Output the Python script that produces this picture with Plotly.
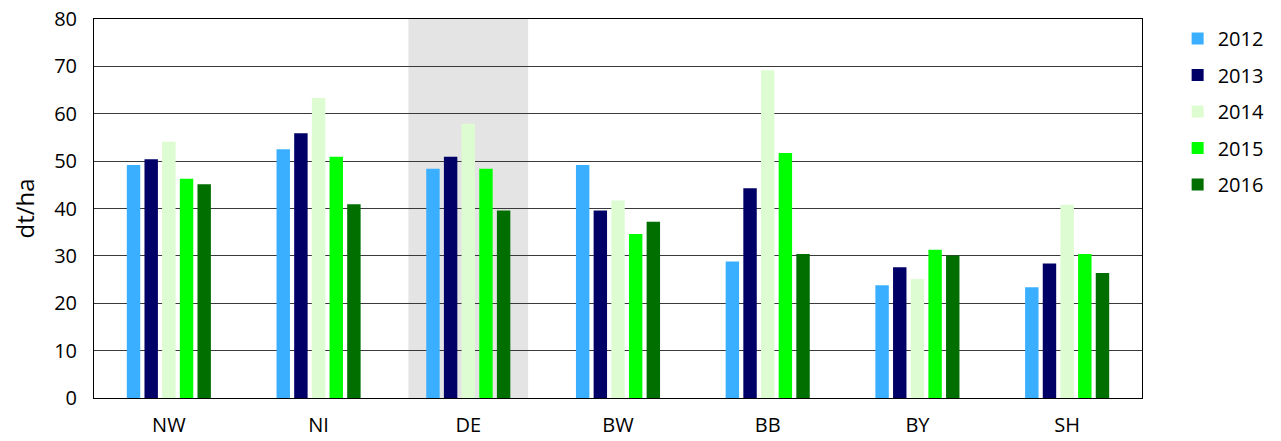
import plotly.graph_objects as go

regions = ['NW', 'NI', 'DE', 'BW', 'BB', 'BY', 'SH']
years = ['2012', '2013', '2014', '2015', '2016']
v2012 = [49.2, 52.5, 48.4, 49.2, 28.8, 23.8, 23.4]
v2013 = [50.4, 55.9, 50.9, 39.6, 44.3, 27.6, 28.4]
v2014 = [54.1, 63.3, 57.9, 41.7, 69.2, 25.1, 40.8]
v2015 = [46.3, 50.9, 48.4, 34.6, 51.7, 31.3, 30.4]
v2016 = [45.1, 40.9, 39.6, 37.2, 30.4, 30.1, 26.4]
series = [v2012, v2013, v2014, v2015, v2016]
colors = ['#3AAFFF', '#000066', '#DEFCD2', '#00FF00', '#006F00']

font = dict(family='Open Sans, Liberation Sans, sans-serif', size=20, color='black')

fig = go.Figure()
for yr, vals, c in zip(years, series, colors):
    fig.add_bar(x=regions, y=vals, name=yr, marker=dict(color=c, line=dict(width=0)),
                legendgroup=yr)

# grey band behind the DE group
fig.add_shape(type='rect', xref='x', yref='y', x0=1.6, x1=2.4, y0=0, y1=80,
              fillcolor='#E4E4E4', line=dict(width=0), layer='below')

# page body has an 8px margin, so the figure is a bit smaller than the window
fig.update_layout(
    width=1273, height=433,
    margin=dict(l=86, r=135, t=11, b=43),
    plot_bgcolor='white', paper_bgcolor='white',
    font=font,
    barmode='group', bargap=0.41, bargroupgap=0.24,
    legend=dict(x=1.034, y=1.0, xanchor='left', yanchor='top', traceorder='grouped',
                tracegroupgap=7.5, font=dict(size=20), itemwidth=30),
)
fig.update_xaxes(showline=True, linecolor='black', linewidth=1, mirror=True,
                 showgrid=False, ticks='', ticklabelstandoff=9, automargin=False)
fig.update_yaxes(range=[0, 80], dtick=10, showline=True, linecolor='black', linewidth=1,
                 mirror=True, showgrid=True, gridcolor='#3A3A3A', gridwidth=1,
                 ticks='', ticklabelstandoff=12, zeroline=False, automargin=False,
                 ticklabeloverflow='allow',
                 title=dict(text='dt/ha', standoff=25))

fig.write_html('out.html')
